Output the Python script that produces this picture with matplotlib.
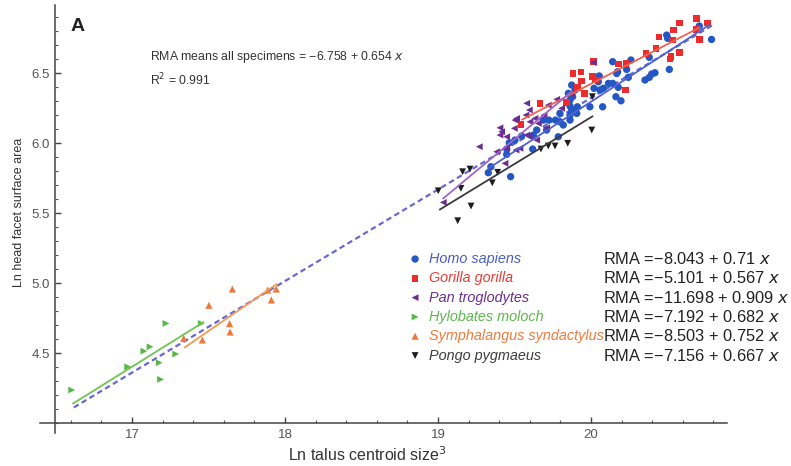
import matplotlib
matplotlib.use("Agg")
import matplotlib.pyplot as plt
from matplotlib.ticker import MultipleLocator, FixedLocator

plt.rcParams["font.family"] = ["Liberation Sans", "DejaVu Sans"]

# Homo sapiens
homo_x = [19.329, 19.346, 19.475, 19.449, 19.466, 19.503, 19.547, 19.619, 19.623, 19.645,
          19.688, 19.710, 19.725, 19.786, 19.797, 19.819, 19.863, 19.907, 19.874, 19.863,
          19.911, 19.863, 19.880, 19.852, 19.896, 19.874, 19.993, 20.020, 20.048, 20.054,
          20.059, 20.081, 20.076, 20.114, 20.142, 20.142, 20.163, 20.196, 20.178, 20.168,
          20.174, 20.233, 20.244, 20.261, 20.353, 20.381, 20.397, 20.418, 20.381, 20.512,
          20.495, 20.501, 20.708, 20.788, 19.768, 19.863, 19.797, 19.449]
homo_y = [5.788, 5.831, 5.760, 5.919, 6.002, 6.021, 6.050, 5.957, 6.057, 6.093,
          6.164, 6.093, 6.164, 6.045, 6.152, 6.129, 6.200, 6.212, 6.236, 6.264,
          6.259, 6.307, 6.331, 6.355, 6.379, 6.414, 6.259, 6.391, 6.438, 6.479,
          6.379, 6.391, 6.259, 6.426, 6.426, 6.581, 6.331, 6.302, 6.398, 6.497,
          6.509, 6.526, 6.469, 6.593, 6.450, 6.469, 6.493, 6.502, 6.612, 6.526,
          6.771, 6.748, 6.836, 6.740, 6.164, 6.164, 6.212, 5.957]

# Gorilla gorilla
gor_x = [19.542, 19.667, 19.841, 19.884, 19.935, 19.913, 19.939, 19.956, 20.015, 20.011,
         20.031, 20.179, 20.229, 20.224, 20.359, 20.425, 20.446, 20.523, 20.534, 20.538,
         20.577, 20.577, 20.518, 20.690, 20.686, 20.708, 20.763]
gor_y = [6.133, 6.284, 6.288, 6.497, 6.509, 6.398, 6.443, 6.355, 6.581, 6.474,
         6.450, 6.564, 6.569, 6.379, 6.641, 6.676, 6.759, 6.617, 6.736, 6.807,
         6.648, 6.859, 6.600, 6.891, 6.812, 6.740, 6.859]

# Pan troglodytes
pan_x = [19.035, 19.270, 19.384, 19.405, 19.416, 19.405, 19.449, 19.449, 19.438, 19.503,
         19.499, 19.514, 19.510, 19.536, 19.580, 19.597, 19.575, 19.601, 19.580, 19.597,
         19.645, 19.634, 19.656, 19.693, 19.710, 19.721, 19.776, 19.808, 19.874, 20.015]
pan_y = [5.576, 5.974, 5.938, 6.109, 6.081, 6.057, 6.045, 5.962, 5.855, 6.164,
         6.105, 6.176, 5.950, 5.962, 6.284, 6.236, 6.200, 6.152, 6.057, 6.045,
         6.021, 6.176, 6.140, 6.200, 6.109, 6.271, 6.312, 6.248, 6.350, 6.574]

# Hylobates moloch
hyl_x = [16.606, 16.972, 17.078, 17.118, 17.222, 17.178, 17.187, 17.286, 17.453]
hyl_y = [4.236, 4.402, 4.514, 4.545, 4.712, 4.431, 4.312, 4.493, 4.712]

# Symphalangus syndactylus
sym_x = [17.338, 17.460, 17.503, 17.656, 17.638, 17.641, 17.887, 17.911, 17.943]
sym_y = [4.605, 4.593, 4.841, 4.957, 4.710, 4.650, 4.950, 4.879, 4.957]

# Pongo pygmaeus
pon_x = [19.002, 19.161, 19.209, 19.150, 19.216, 19.129, 19.355, 19.390, 19.673, 19.721,
         19.765, 19.848, 20.005, 20.009]
pon_y = [5.659, 5.795, 5.814, 5.676, 5.550, 5.445, 5.716, 5.791, 5.957, 5.979,
         5.979, 5.998, 6.093, 6.331]

species = ["Homo sapiens", "Gorilla gorilla", "Pan troglodytes", "Hylobates moloch",
           "Symphalangus syndactylus", "Pongo pygmaeus"]
rma_labels = ["RMA =\u22128.043 + 0.71 $x$", "RMA =\u22125.101 + 0.567 $x$",
              "RMA =\u221211.698 + 0.909 $x$", "RMA =\u22127.192 + 0.682 $x$",
              "RMA =\u22128.503 + 0.752 $x$", "RMA =\u22127.156 + 0.667 $x$"]
# fitted lines as drawn: intercept, slope, x range
line_a = [-7.905, -4.917, -11.698, -7.192, -8.503, -7.156]
line_b = [0.71, 0.567, 0.909, 0.682, 0.752, 0.667]
line_x0 = [19.33, 19.55, 19.035, 16.616, 17.346, 19.013]
line_x1 = [20.77, 20.71, 19.874, 17.466, 17.943, 20.009]

# all specimens
all_a, all_b = -6.758, 0.654
all_x0, all_x1 = 16.62, 20.80

xs = [homo_x, gor_x, pan_x, hyl_x, sym_x, pon_x]
ys = [homo_y, gor_y, pan_y, hyl_y, sym_y, pon_y]
markers = ["o", "s", "<", ">", "^", "v"]
colors = ["#2456c4", "#ec2c2c", "#6b2d8f", "#56b847", "#f0773a", "#1c1c1c"]
line_colors = ["#4e62d2", "#f2614f", "#a064c8", "#70c451", "#f59a55", "#3a3a3a"]
text_colors = ["#4a5fc8", "#ec3a32", "#6b2d8f", "#5cb84a", "#f07a3c", "#3c3c3c"]
sizes = [28, 22, 24, 24, 26, 24]

fig = plt.figure(figsize=(7.91, 4.66), dpi=100)
ax = fig.add_axes([40 / 791, 33 / 466, 687 / 791, 428 / 466])

ax.plot([all_x0, all_x1], [all_a + all_b * all_x0, all_a + all_b * all_x1],
        color="#6a68d0", lw=1.6, dashes=(2.5, 1.6), zorder=2)

for i in range(len(species)):
    ax.scatter(xs[i], ys[i], marker=markers[i], s=sizes[i], color=colors[i],
               edgecolors="none", zorder=3)
    lx = [line_x0[i], line_x1[i]]
    ly = [line_a[i] + line_b[i] * line_x0[i], line_a[i] + line_b[i] * line_x1[i]]
    ax.plot(lx, ly, color=line_colors[i], lw=1.3, zorder=4)

ax.set_xlim(16.399, 20.889)
ax.set_ylim(3.929, 6.986)

for s in ["top", "right"]:
    ax.spines[s].set_visible(False)
ax.spines["left"].set_position(("data", 16.5))
ax.spines["bottom"].set_position(("data", 4.0))
for s in ["left", "bottom"]:
    ax.spines[s].set_color("#444444")
    ax.spines[s].set_linewidth(1.1)

ax.xaxis.set_major_locator(FixedLocator([17, 18, 19, 20]))
ax.xaxis.set_minor_locator(FixedLocator([16.6, 16.8, 17.2, 17.4, 17.6, 17.8, 18.2, 18.4,
                                         18.6, 18.8, 19.2, 19.4, 19.6, 19.8, 20.2, 20.4,
                                         20.6, 20.8]))
ax.yaxis.set_major_locator(FixedLocator([4.5, 5.0, 5.5, 6.0, 6.5]))
ax.yaxis.set_minor_locator(MultipleLocator(0.1))
ax.set_xticklabels(["17", "18", "19", "20"])
ax.set_yticklabels(["4.5", "5.0", "5.5", "6.0", "6.5"])
ax.tick_params(which="major", direction="in", length=4, width=1.0, color="#444444",
               labelsize=9.5, labelcolor="#555555", pad=4)
ax.tick_params(which="minor", direction="in", length=2.2, width=0.8, color="#555555")

fig.text(367 / 791, 11 / 466, "Ln talus centroid size$^3$", ha="center", va="center",
         fontsize=11.5, color="#333333")
fig.text(19 / 791, 254 / 466, "Ln head facet surface area", rotation=90, ha="center",
         va="center", fontsize=9, color="#333333")

ax.text(0.044, 0.949, "A", transform=ax.transAxes, fontsize=14, fontweight="bold",
        ha="left", va="center", color="#222222")
ax.text(0.160, 0.8785, "RMA means all specimens = \u22126.758 + 0.654 $x$",
        transform=ax.transAxes, fontsize=8.8, ha="left", va="center", color="#333333")
ax.text(0.160, 0.8248, "R$^2$ = 0.991", transform=ax.transAxes, fontsize=8.8,
        ha="left", va="center", color="#333333")

# legend block
y0, dy = 0.4065, 0.0451
for i in range(len(species)):
    yy = y0 - i * dy
    ax.scatter([0.546], [yy], marker=markers[i], s=sizes[i], color=colors[i],
               edgecolors="none", transform=ax.transAxes, clip_on=False, zorder=5)
    ax.text(0.566, yy, species[i], transform=ax.transAxes, fontsize=10.4,
            style="italic", color=text_colors[i], ha="left", va="center")
    ax.text(0.8195, yy, rma_labels[i], transform=ax.transAxes, fontsize=11.8,
            color="#222222", ha="left", va="center")

fig.savefig("out.png", dpi=100)
